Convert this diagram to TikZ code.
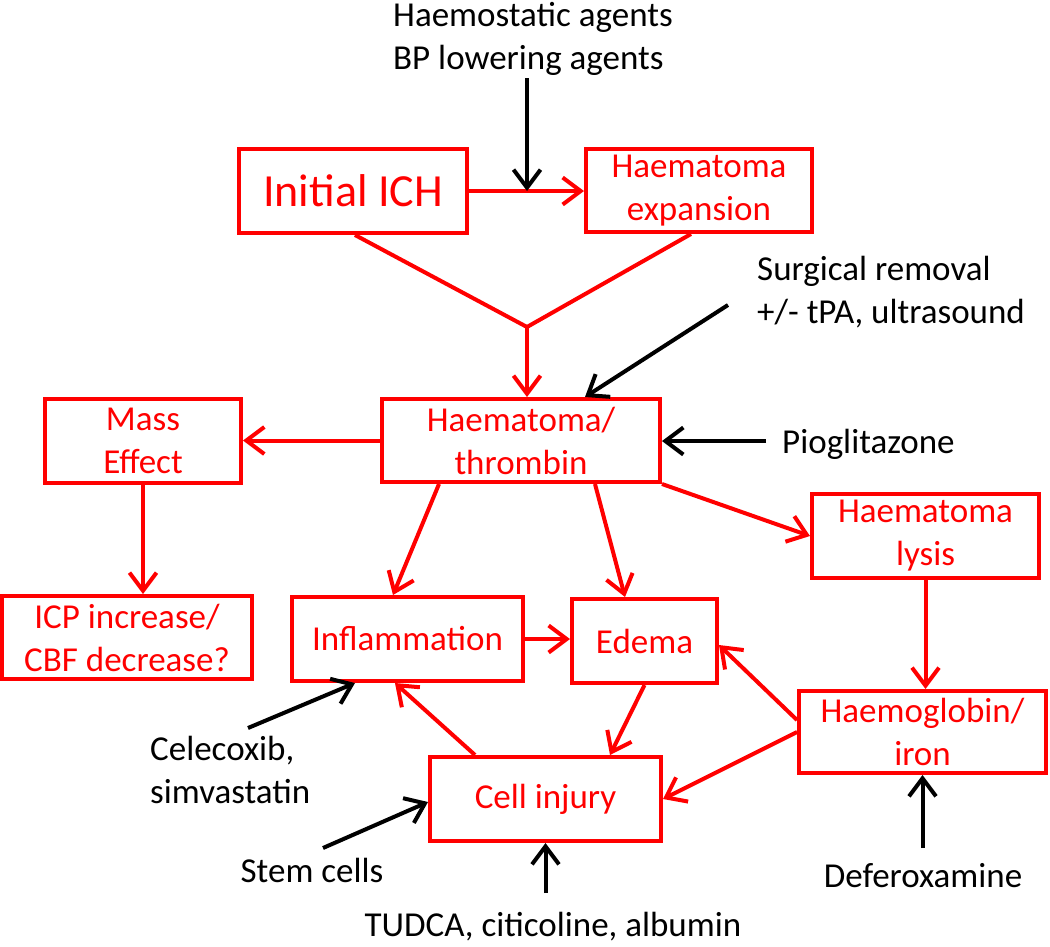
\documentclass[tikz,border=0pt]{standalone}
\usepackage{fontspec}
\setmainfont{Carlito}
\usetikzlibrary{arrows.meta,calc}
\begin{document}
\begin{tikzpicture}[x=1pt,y=-1pt,
  box/.style={draw=red, line width=4pt, text=red, align=center, inner sep=0pt, font=\fontsize{35}{43}\selectfont},
  lab/.style={text=black, align=left, inner sep=0pt, font=\fontsize{35}{43}\selectfont},
  tip/.style={-{Straight Barb[length=18pt,width=27pt]}},
  rarr/.style={draw=red, line width=4pt, tip},
  barr/.style={draw=black, line width=4pt, tip},
  rline/.style={draw=red, line width=4pt}]
\useasboundingbox (0,0) rectangle (1050,946);
% boxes
\node[box, minimum width=228pt, minimum height=84pt, font=\fontsize{46}{52}\selectfont] (ich) at (353,191) {Initial ICH};
\node[box, minimum width=226pt, minimum height=83pt] (exp) at (699,190.5) {Haematoma\\expansion};
\node[box, minimum width=278pt, minimum height=83pt] (thr) at (521,440.5) {Haematoma/\\thrombin};
\node[box, minimum width=196pt, minimum height=84pt] (mass) at (143,441) {Mass\\Effect};
\node[box, minimum width=250pt, minimum height=83pt] (icp) at (127,637.5) {ICP increase/\\CBF decrease?};
\node[box, minimum width=231pt, minimum height=84pt] (infl) at (407.5,639) {Inflammation};
\node[box, minimum width=145pt, minimum height=84pt] (edema) at (644.5,641) {Edema};
\node[box, minimum width=231pt, minimum height=84pt] (cell) at (545.5,799) {Cell injury};
\node[box, minimum width=227pt, minimum height=84pt] (lysis) at (925.5,536) {Haematoma\\lysis};
\node[box, minimum width=247pt, minimum height=82pt] (hb) at (922.5,732) {Haemoglobin/\\iron};
% labels
\node[lab, anchor=west] (tHa) at (393,39) {Haemostatic agents\\BP lowering agents};
\node[lab, anchor=west] (tSu) at (757,292) {Surgical removal\\+/- tPA, ultrasound};
\node[lab, anchor=base west] (tPi) at (782,453) {Pioglitazone};
\node[lab, anchor=west] (tCe) at (150,770) {Celecoxib,\\simvastatin};
\node[lab, anchor=base] (tSt) at (312,882) {Stem cells};
\node[lab, anchor=base] (tTu) at (553,936) {TUDCA, citicoline, albumin};
\node[lab, anchor=base] (tDe) at (923,887) {Deferoxamine};
% coordinates
\coordinate (j) at (527,327);
\coordinate (hm) at (527,191);
\coordinate (sHa) at (527,78);
\coordinate (sSu) at (728,305);
\coordinate (sPi) at (766,441);
\coordinate (sCe) at (248,728);
\coordinate (sSt) at (323,848);
\coordinate (sTu) at (545.5,893);
\coordinate (sDe) at (922.5,848);
% red connectors
\draw[rarr] (ich.east) -- (ich.east -| exp.west);
\draw[rline] ($(ich.south west)+(118,0)$) -- (j);
\draw[rline] ($(exp.south west)+(107,0)$) -- (j);
\draw[rarr] (j) -- (j |- thr.north);
\draw[rarr] (thr.west) -- (thr.west -| mass.east);
\draw[rarr] (mass.south) -- (mass.south |- icp.north);
\draw[rarr] ($(thr.south west)+(59,0)$) -- ($(infl.north west)+(103,0)$);
\draw[rarr] ($(thr.south west)+(215,0)$) -- ($(edema.north west)+(55,0)$);
\draw[rarr] (thr.south east) -- (lysis.west);
\draw[rarr] (infl.east) -- (infl.east -| edema.west);
\draw[rarr] (lysis.south) -- (lysis.south |- hb.north);
\draw[rarr] ($(hb.north west)+(0,31)$) -- ($(edema.east)+(0,4)$);
\draw[rarr] (hb.west) -- (cell.east);
\draw[rarr] (edema.south) -- ($(cell.north west)+(182,0)$);
\draw[rarr] ($(cell.north west)+(47,0)$) -- ($(infl.south west)+(105,0)$);
% black connectors
\draw[barr] (sHa) -- (hm);
\draw[barr] (sSu) -- ($(thr.north west)+(205,0)$);
\draw[barr] (sPi) -- (sPi -| thr.east);
\draw[barr] (sCe) -- ($(infl.south west)+(65,0)$);
\draw[barr] (sSt) -- ($(cell.west)+(0,3)$);
\draw[barr] (sTu) -- (cell.south);
\draw[barr] (sDe) -- (hb.south);
\end{tikzpicture}
\end{document}
